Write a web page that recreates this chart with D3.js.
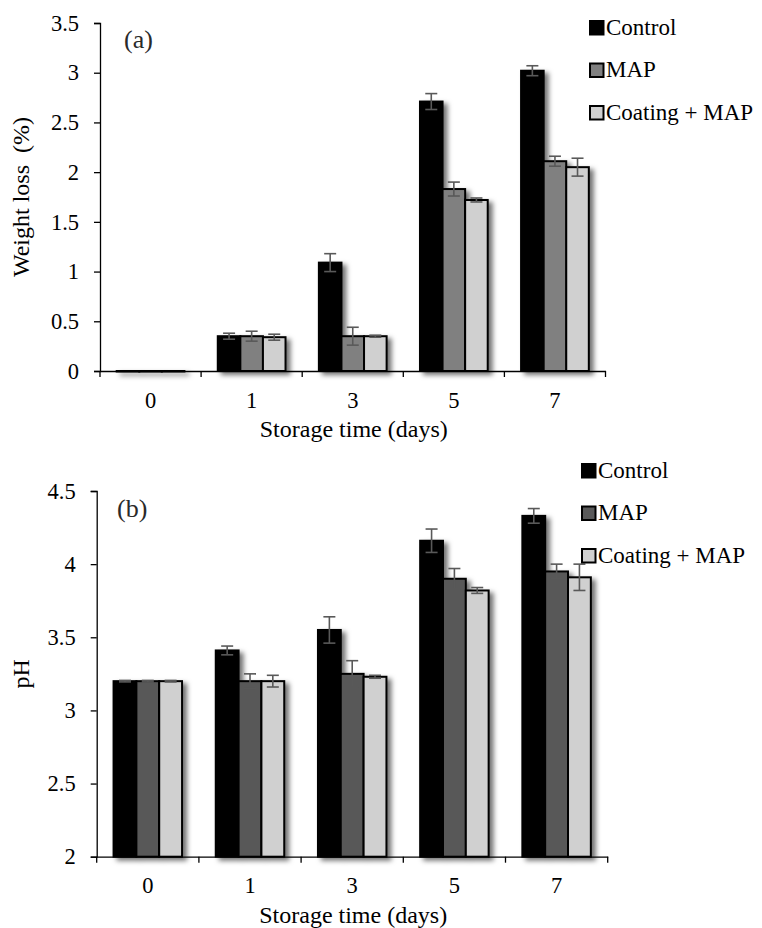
<!DOCTYPE html>
<head>
  <meta charset="utf-8">
  <style>
  body { margin: 0; background: #fff; }
  text { font-family: 'Liberation Serif', 'Times New Roman', serif; fill: #000; }
  .axis path, .axis line { stroke: #000; stroke-width: 1.3; }
  .axis text { font-size: 22.5px; }
  .err { stroke: #595959; stroke-width: 1.6; }
  .bar { stroke: #000; stroke-width: 2; }
  </style>
</head>
<body>
  <svg id="chart"></svg>

  <script src="https://d3js.org/d3.v7.min.js"></script>
  <script>

  var width = 762,
      height = 928;

  // Storage days and treatments
  var days = ["0", "1", "3", "5", "7"];
  var series = ["Control", "MAP", "Coating + MAP"];

  // (a) weight loss, %
  var weightControl = [0, 0.35, 1.09, 2.71, 3.02];
  var weightMAP     = [0, 0.35, 0.35, 1.83, 2.11];
  var weightCoating = [0, 0.34, 0.35, 1.72, 2.05];
  var weightControlErr = [0, 0.03, 0.09, 0.08, 0.05];
  var weightMAPErr     = [0, 0.05, 0.09, 0.07, 0.05];
  var weightCoatingErr = [0, 0.03, 0.01, 0.02, 0.09];
  var weightTicks = [0, 0.5, 1, 1.5, 2, 2.5, 3, 3.5];

  // (b) pH
  var phControl = [3.2, 3.41, 3.55, 4.16, 4.33];
  var phMAP     = [3.2, 3.2, 3.25, 3.9, 3.95];
  var phCoating = [3.2, 3.2, 3.23, 3.82, 3.91];
  var phControlErr = [0.005, 0.03, 0.09, 0.08, 0.05];
  var phMAPErr     = [0.005, 0.05, 0.09, 0.07, 0.05];
  var phCoatingErr = [0.005, 0.04, 0.01, 0.02, 0.09];
  var phTicks = [2, 2.5, 3, 3.5, 4, 4.5];

  var svg = d3.select('#chart')
    .attr('width', width)
    .attr('height', height);

  // soft shadow to the right of the bars (excel style)
  var filter = svg.append('defs').append('filter')
    .attr('id', 'shadow')
    .attr('x', '-20%').attr('y', '-20%')
    .attr('width', '160%').attr('height', '140%');
  filter.append('feDropShadow')
    .attr('dx', 4).attr('dy', 3)
    .attr('stdDeviation', 2.6)
    .attr('flood-color', '#000')
    .attr('flood-opacity', 0.55);

  function drawPanel(p) {
    var x = d3.scaleBand()
      .domain(days)
      .range([p.left, p.right]);

    var pad = x.bandwidth() * 0.165;
    var xs = d3.scaleBand()
      .domain(series)
      .range([pad, x.bandwidth() - pad]);

    var y = d3.scaleLinear()
      .domain(d3.extent(p.ticks))
      .range([p.bottom, p.top]);

    var color = d3.scaleOrdinal().domain(series).range(p.colors);

    var rows = [];
    days.forEach(function(d, i) {
      series.forEach(function(s, j) {
        rows.push({ day: d, s: s, v: p.values[j][i], e: p.errors[j][i] });
      });
    });

    // bars
    var bars = svg.append('g').attr('filter', 'url(#shadow)');
    bars.selectAll('rect')
      .data(rows)
      .enter().append('rect')
        .attr('class', 'bar')
        .attr('x', function(d) { return x(d.day) + xs(d.s); })
        .attr('y', function(d) { return y(d.v); })
        .attr('width', xs.bandwidth())
        .attr('height', function(d) { return Math.max(0.5, y(y.domain()[0]) - y(d.v)); })
        .style('fill', function(d) { return color(d.s); });

    // error bars
    var err = svg.append('g').selectAll('g')
      .data(rows.filter(function(d) { return d.e > 0; }))
      .enter().append('g')
        .attr('class', 'err')
        .attr('transform', function(d) { return 'translate(' + (x(d.day) + xs(d.s) + xs.bandwidth() / 2) + ',0)'; });
    err.append('line')
      .attr('y1', function(d) { return y(d.v - d.e); })
      .attr('y2', function(d) { return y(d.v + d.e); });
    err.append('line')
      .attr('x1', -6).attr('x2', 6)
      .attr('y1', function(d) { return y(d.v + d.e); })
      .attr('y2', function(d) { return y(d.v + d.e); });
    err.append('line')
      .attr('x1', -6).attr('x2', 6)
      .attr('y1', function(d) { return y(d.v - d.e); })
      .attr('y2', function(d) { return y(d.v - d.e); });

    // y axis
    svg.append('g')
      .attr('class', 'axis')
      .attr('transform', 'translate(' + p.left + ',0)')
      .call(d3.axisLeft(y).tickValues(p.ticks).tickSize(6).tickPadding(15)
        .tickFormat(d3.format('')));

    // x axis: labels at band centres, ticks at band edges
    var xa = svg.append('g')
      .attr('class', 'axis')
      .attr('transform', 'translate(0,' + p.bottom + ')')
      .call(d3.axisBottom(x).tickSize(0).tickSizeOuter(0));
    xa.selectAll('text').attr('y', 36.5).attr('dy', null);
    xa.selectAll('.edge')
      .data(days.map(function(d) { return x(d); }).concat([p.right]))
      .enter().append('line')
        .attr('class', 'edge')
        .attr('x1', function(d) { return d; })
        .attr('x2', function(d) { return d; })
        .attr('y1', 0).attr('y2', 6);

    // axis titles
    svg.append('text')
      .attr('x', (p.left + p.right) / 2 + 1)
      .attr('y', p.bottom + p.titleGap)
      .attr('text-anchor', 'middle')
      .style('font-size', '24px')
      .text('Storage time (days)');

    svg.append('text')
      .attr('transform', 'translate(' + p.yTitleX + ',' + ((p.top + p.bottom) / 2) + ') rotate(-90)')
      .attr('text-anchor', 'middle')
      .style('font-size', '24px')
      .style('white-space', 'pre')
      .text(p.yTitle);

    // panel tag
    svg.append('text')
      .attr('x', p.tag[0])
      .attr('y', p.tag[1])
      .style('font-size', '26px')
      .style('fill', '#2a2a2a')
      .text(p.tagText);

    // legend
    var leg = svg.append('g').selectAll('g')
      .data(series)
      .enter().append('g')
        .attr('transform', function(d, i) { return 'translate(' + p.legend[0] + ',' + (p.legend[1] + i * 42.5) + ')'; });
    leg.append('rect')
      .attr('x', 0).attr('y', -13.5)
      .attr('width', 13.5).attr('height', 13.5)
      .attr('stroke', '#000').attr('stroke-width', 2)
      .style('fill', function(d) { return color(d); });
    leg.append('text')
      .attr('x', 16)
      .attr('y', 0)
      .style('font-size', '23px')
      .text(function(d) { return d; });
  }

  drawPanel({
    left: 100, right: 605.5, top: 23, bottom: 371,
    ticks: weightTicks,
    values: [weightControl, weightMAP, weightCoating],
    errors: [weightControlErr, weightMAPErr, weightCoatingErr],
    colors: ['#000000', '#808080', '#d0d0d0'],
    yTitle: 'Weight loss  (%)', yTitleX: 29,
    titleGap: 65.5,
    tag: [124, 48], tagText: '(a)',
    legend: [590, 34.5]
  });

  drawPanel({
    left: 96.7, right: 607.7, top: 491, bottom: 856.7,
    ticks: phTicks,
    values: [phControl, phMAP, phCoating],
    errors: [phControlErr, phMAPErr, phCoatingErr],
    colors: ['#000000', '#595959', '#d0d0d0'],
    yTitle: 'pH', yTitleX: 29,
    titleGap: 66.5,
    tag: [117, 517], tagText: '(b)',
    legend: [582, 477.5]
  });

  </script>
</body>
